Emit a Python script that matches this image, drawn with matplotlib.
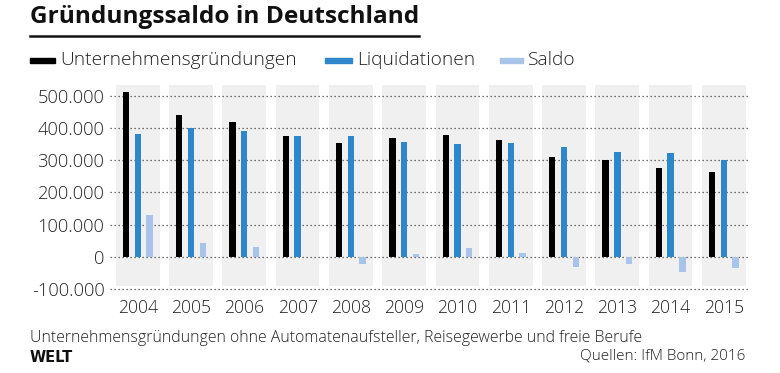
import matplotlib
matplotlib.use("Agg")
import matplotlib.pyplot as plt
from matplotlib.patches import Rectangle
from matplotlib.lines import Line2D
import numpy as np

years = ["2004", "2005", "2006", "2007", "2008", "2009", "2010", "2011", "2012", "2013", "2014", "2015"]
gruendungen = [511000, 441000, 419000, 375000, 352000, 368000, 377000, 362000, 310000, 301000, 275000, 264000]
liquidationen = [381000, 399000, 390000, 375000, 375000, 357000, 350000, 352000, 341000, 325000, 321000, 300000]
saldo = [130000, 42000, 29000, 0, -22000, 10000, 26000, 11000, -31000, -21000, -47000, -36000]
yticks = [-100000, 0, 100000, 200000, 300000, 400000, 500000]
ytick_labels = ["-100.000", "0", "100.000", "200.000", "300.000", "400.000", "500.000"]

FONT = "Open Sans"
W = "light"
C_BLACK = "#000000"
C_BLUE = "#2f87cb"
C_LIGHT = "#a8c5e9"
C_BAND = "#f0f0f0"
C_TXT = "#222222"

fig = plt.figure(figsize=(7.8, 3.73), dpi=100)
ax = fig.add_axes([110/780, (373-290.6)/373, (750-110)/780, (290.6-84.4)/373])

x = np.arange(len(years))
bw = 0.12
off = 0.22
ax.bar(x, [625000]*len(years), bottom=-92000, width=0.82, color=C_BAND, zorder=0)
for yv in yticks:
    ax.axhline(yv, color="#444444", linestyle=(0, (1, 2.2)), linewidth=0.9, zorder=1)
ax.bar(x - off, gruendungen, width=bw, color=C_BLACK, zorder=2)
ax.bar(x, liquidationen, width=bw, color=C_BLUE, zorder=2)
ax.bar(x + off, saldo, width=bw, color=C_LIGHT, zorder=2)

ax.set_xlim(-0.52, 11.49)
ax.set_ylim(-105000, 535000)
ax.set_yticks(yticks)
ax.set_yticklabels(ytick_labels, fontfamily=FONT, fontweight=W, fontsize=13.2, color=C_TXT)
ax.set_xticks(x)
ax.set_xticklabels(years, fontfamily=FONT, fontweight=W, fontsize=12.7, color=C_TXT)
ax.tick_params(axis="both", length=0)
ax.tick_params(axis="y", pad=4)
ax.tick_params(axis="x", pad=6)
for s in ax.spines.values():
    s.set_visible(False)

# Title
fig.text(30/780, 1 - 17/373, "Gründungssaldo in Deutschland", fontfamily=FONT, fontweight="bold",
         fontsize=17.6, va="center", ha="left", color="#111111")
fig.add_artist(Line2D([30/780, 419/780], [1 - 36/373, 1 - 36/373], color="#111111", linewidth=1.8))

# Legend
leg_y = 1 - 60/373
items = [(30, 55, C_BLACK, "Unternehmensgründungen"),
         (325, 352, C_BLUE, "Liquidationen"),
         (500, 523, C_LIGHT, "Saldo")]
for x0, x1, c, lab in items:
    fig.add_artist(Rectangle((x0/780, leg_y - 2.5/373), (x1-x0)/780, 5/373, color=c, transform=fig.transFigure))
    fig.text((x1+5)/780, leg_y, lab, fontfamily=FONT, fontweight=W, fontsize=13.8,
             va="center", ha="left", color=C_TXT)

# Footer
fig.text(30/780, 1 - 338/373, "Unternehmensgründungen ohne Automatenaufsteller, Reisegewerbe und freie Berufe",
         fontfamily=FONT, fontweight=W, fontsize=11.4, va="center", ha="left", color=C_TXT)
fig.text(30/780, 1 - 357/373, "WELT", fontfamily="DejaVu Sans", fontweight="bold", fontsize=10.5,
         va="center", ha="left", color="#111111")
fig.text(745/780, 1 - 356/373, "Quellen: IfM Bonn, 2016", fontfamily=FONT, fontweight=W, fontsize=11,
         va="center", ha="right", color=C_TXT)

fig.savefig("out.png", dpi=100)
